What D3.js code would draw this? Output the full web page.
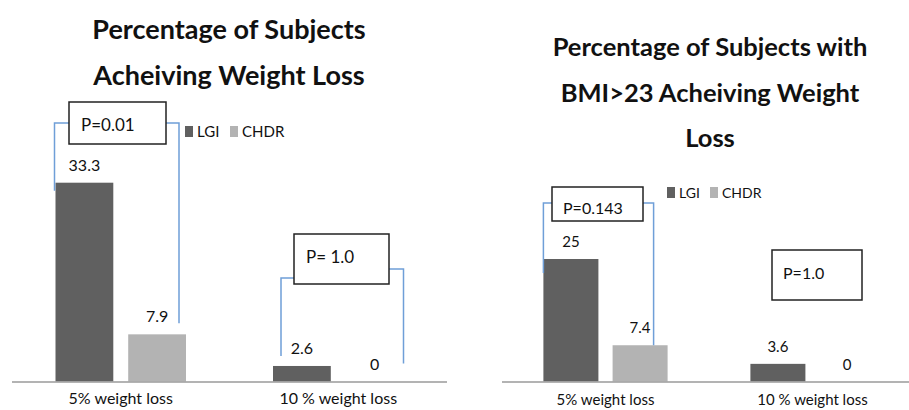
<!DOCTYPE html>
<html>
<head>
<meta charset="utf-8">
<script src="https://cdn.jsdelivr.net/npm/d3@7"></script>
<style>
  html, body { margin: 0; padding: 0; background: #fff; }
  svg { display: block; }
  text { font-family: Lato, "Open Sans", "Liberation Sans", sans-serif; fill: #111; }
</style>
</head>
<body>
<svg id="chart" width="909" height="410"></svg>
<script>
// Shared categories and series
const categories = ["5% weight loss", "10 % weight loss"];
const seriesNames = ["LGI", "CHDR"];
const seriesColors = ["#606060", "#b3b3b3"];

// All subjects
const allTitle = ["Percentage of Subjects", "Acheiving Weight Loss"];
const allLGI = [33.3, 2.6];
const allCHDR = [7.9, 0];
const allPValues = ["P=0.01", "P= 1.0"];

// Subjects with BMI > 23
const bmiTitle = ["Percentage of Subjects with", "BMI>23 Acheiving Weight", "Loss"];
const bmiLGI = [25, 3.6];
const bmiCHDR = [7.4, 0];
const bmiPValues = ["P=0.143", "P=1.0"];

const svg = d3.select("#chart");
const bracketColor = "#6f9fd8";

function drawPanel(cfg) {
  const g = svg.append("g");
  const x0 = d3.scaleBand().domain(categories).range(cfg.xRange).paddingInner(0.4).paddingOuter(0.2);
  const x1 = d3.scaleBand().domain(seriesNames).range([0, x0.bandwidth()]).paddingInner(0.205).paddingOuter(0);
  const y = d3.scaleLinear().domain([0, 40]).range([cfg.baseline, cfg.baseline - 40 * cfg.pxPerUnit]);

  const rows = categories.map((c, i) => ({ cat: c, vals: [cfg.lgi[i], cfg.chdr[i]] }));

  // Title
  g.append("g").selectAll("text").data(cfg.title).join("text")
    .attr("x", cfg.titleX)
    .attr("y", (d, i) => cfg.titleY + i * cfg.titleStep)
    .attr("text-anchor", "middle")
    .attr("font-weight", "bold")
    .attr("font-size", cfg.titleSize)
    .text(d => d);

  // Bars
  const groups = g.append("g").selectAll("g").data(rows).join("g")
    .attr("transform", d => `translate(${x0(d.cat)},0)`);
  groups.selectAll("rect").data(d => d.vals.map((v, j) => ({ s: seriesNames[j], v, j }))).join("rect")
    .attr("x", d => x1(d.s))
    .attr("width", x1.bandwidth())
    .attr("y", d => y(d.v))
    .attr("height", d => y(0) - y(d.v))
    .attr("fill", d => seriesColors[d.j]);
  groups.selectAll("text.val").data(d => d.vals.map((v, j) => ({ s: seriesNames[j], v }))).join("text")
    .attr("class", "val")
    .attr("x", d => x1(d.s) + x1.bandwidth() / 2)
    .attr("y", d => y(d.v) - 12)
    .attr("text-anchor", "middle")
    .attr("font-size", cfg.valueSize)
    .text(d => d.v);

  // Category axis
  g.append("line")
    .attr("x1", cfg.axisStart).attr("x2", cfg.xRange[1])
    .attr("y1", y(0) + 0.5).attr("y2", y(0) + 0.5)
    .attr("stroke", "#9a9a9a").attr("stroke-width", 1.5);
  g.append("g").selectAll("text").data(categories).join("text")
    .attr("x", d => x0(d) + x0.bandwidth() / 2)
    .attr("y", cfg.catY)
    .attr("text-anchor", "middle")
    .attr("font-size", cfg.catSize)
    .text(d => d);

  // Legend
  const leg = g.append("g").selectAll("g").data(seriesNames).join("g")
    .attr("transform", (d, i) => `translate(${cfg.legendX[i]},${cfg.legendY})`);
  leg.append("rect").attr("x", 0).attr("y", -11).attr("width", 8).attr("height", 11)
    .attr("fill", (d, i) => seriesColors[i]);
  leg.append("text").attr("x", 12).attr("y", 0).attr("font-size", cfg.legendSize).attr("fill", "#333").text(d => d);

  // Significance brackets
  cfg.brackets.forEach(b => {
    const band = x0(categories[b.cat]);
    const lx = band + x1("LGI") + b.leftDx;
    const rx = band + x1("CHDR") + x1.bandwidth() + b.rightDx;
    const ly2 = y(cfg.lgi[b.cat]) + b.leftDy;
    const ry2 = y(cfg.chdr[b.cat]) + b.rightDy;
    g.append("path")
      .attr("d", `M${lx},${ly2}V${b.leftTop}H${b.box[0]}`)
      .attr("fill", "none").attr("stroke", bracketColor).attr("stroke-width", 1.5);
    g.append("path")
      .attr("d", `M${b.box[0] + b.box[2]},${b.rightTop}H${rx}V${ry2}`)
      .attr("fill", "none").attr("stroke", bracketColor).attr("stroke-width", 1.5);
  });

  // P-value boxes
  cfg.boxes.forEach((bx, i) => {
    g.append("rect")
      .attr("x", bx[0]).attr("y", bx[1]).attr("width", bx[2]).attr("height", bx[3])
      .attr("fill", "#fff").attr("stroke", "#222").attr("stroke-width", 1.5);
    g.append("text")
      .attr("x", bx[0] + cfg.pTextDx).attr("y", bx[1] + cfg.pTextDy[i])
      .attr("font-size", cfg.pSize)
      .text(cfg.pValues[i]);
  });
}

drawPanel({
  title: allTitle, titleX: 229, titleY: 39, titleStep: 46, titleSize: 27,
  lgi: allLGI, chdr: allCHDR, pValues: allPValues,
  xRange: [12, 447], axisStart: 12, baseline: 381.5, pxPerUnit: 5.97,
  valueSize: 16, catSize: 16, catY: 404, legendSize: 15, legendX: [185, 230], legendY: 137,
  pSize: 17, pTextDx: 12, pTextDy: [29, 29],
  boxes: [[69, 102, 97, 42], [294, 234, 95, 50]],
  brackets: [
    { cat: 0, leftDx: -1, leftDy: 8, leftTop: 123, rightDx: -7, rightDy: -11, rightTop: 123, box: [69, 102, 97, 42] },
    { cat: 1, leftDx: 8, leftDy: -10, leftTop: 278, rightDx: 0, rightDy: -18, rightTop: 269, box: [294, 234, 95, 50] }
  ]
});

drawPanel({
  title: bmiTitle, titleX: 710, titleY: 56, titleStep: 45.5, titleSize: 25.5,
  lgi: bmiLGI, chdr: bmiCHDR, pValues: bmiPValues,
  xRange: [502, 916], axisStart: 502, baseline: 381.5, pxPerUnit: 4.9,
  valueSize: 15, catSize: 15, catY: 405, legendSize: 14, legendX: [667, 710], legendY: 198,
  pSize: 16, pTextDx: 11, pTextDy: [27, 29],
  boxes: [[552, 187, 91, 34], [772, 250, 90, 50]],
  brackets: [
    { cat: 0, leftDx: 0, leftDy: 14, leftTop: 203, rightDx: -14, rightDy: 0, rightTop: 203, box: [552, 187, 91, 34] }
  ]
});
</script>
</body>
</html>
